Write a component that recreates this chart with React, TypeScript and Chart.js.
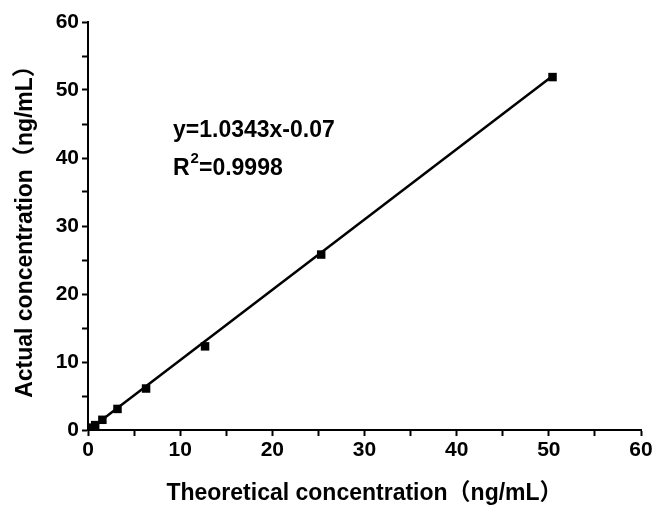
import React, { useEffect, useRef } from "react";
import { Chart, registerables } from "chart.js";

Chart.register(...registerables);

const theoretical = [0.39, 0.78, 1.56, 3.2, 6.3, 12.7, 25.3, 50.4];
const actual = [0.35, 0.72, 1.5, 3.1, 6.1, 12.3, 25.8, 51.9];
const slope = 1.0343;
const intercept = -0.07;
const fitLabel = "y=1.0343x-0.07";
const r2Label = "0.9998";
const xTitle = "Theoretical concentration（ng/mL）";
const yTitle = "Actual concentration（ng/mL）";

const FONT = "'Liberation Sans', Arial, 'Noto Sans CJK SC', sans-serif";

const annotationPlugin = {
  id: "fitText",
  afterDraw(chart: any) {
    const { ctx, chartArea } = chart;
    ctx.save();
    ctx.fillStyle = "#000";
    ctx.font = `bold 23px ${FONT}`;
    ctx.textBaseline = "alphabetic";
    ctx.textAlign = "left";
    const x0 = chartArea.left + 85;
    ctx.fillText(fitLabel, x0, chartArea.top + 115);
    ctx.fillText("R", x0, chartArea.top + 153);
    const rw = ctx.measureText("R").width;
    ctx.font = `bold 15px ${FONT}`;
    ctx.fillText("2", x0 + rw + 1, chartArea.top + 141);
    const w2 = ctx.measureText("2").width;
    ctx.font = `bold 23px ${FONT}`;
    ctx.fillText("=" + r2Label, x0 + rw + w2 + 1, chartArea.top + 153);
    ctx.restore();
  },
};

export default function App() {
  const ref = useRef<HTMLCanvasElement>(null);
  useEffect(() => {
    if (!ref.current) return;
    const xs = [theoretical[0], theoretical[theoretical.length - 1]];
    const fit = xs.map((x) => ({ x, y: slope * x + intercept }));
    const tickFont = { family: FONT, size: 21, weight: "bold" as const };
    const titleFont = { family: FONT, size: 23, weight: "bold" as const };
    const chart = new Chart(ref.current, {
      type: "scatter",
      data: {
        datasets: [
          {
            type: "line",
            data: fit,
            borderColor: "#000",
            borderWidth: 2.5,
            pointRadius: 0,
            showLine: true,
          } as any,
          {
            data: theoretical.map((x, i) => ({ x, y: actual[i] })),
            pointStyle: "rect",
            pointRadius: 6,
            backgroundColor: "#000",
            borderWidth: 0,
          },
        ],
      },
      options: {
        animation: false,
        responsive: false,
        layout: { padding: { top: 22, right: 18, left: 0, bottom: 0 } },
        plugins: { legend: { display: false }, tooltip: { enabled: false } },
        scales: {
          x: {
            type: "linear",
            min: 0,
            max: 60,
            border: { color: "#000", width: 2 },
            grid: { drawOnChartArea: false, color: "#000", tickLength: 6, tickWidth: 2 },
            ticks: {
              stepSize: 5,
              color: "#000",
              font: tickFont,
              padding: 2,
              maxRotation: 0,
              autoSkip: false,
              callback: (v: any) => (v % 10 === 0 ? String(v) : ""),
            },
            title: {
              display: true,
              text: xTitle,
              color: "#000",
              font: titleFont,
              padding: { top: 0, bottom: 7 },
            },
            afterFit: (s: any) => {
              s.height = 84;
            },
          },
          y: {
            type: "linear",
            min: 0,
            max: 60,
            border: { color: "#000", width: 2 },
            grid: { drawOnChartArea: false, color: "#000", tickLength: 6, tickWidth: 2 },
            ticks: {
              stepSize: 5,
              color: "#000",
              font: tickFont,
              padding: 3,
              autoSkip: false,
              callback: (v: any) => (v % 10 === 0 ? String(v) : ""),
            },
            title: {
              display: true,
              text: yTitle,
              color: "#000",
              font: titleFont,
              padding: { top: 12, bottom: 0 },
            },
            afterFit: (s: any) => {
              s.width = 88;
            },
          },
        },
      },
      plugins: [annotationPlugin],
    });
    return () => chart.destroy();
  }, []);
  return (
    <div style={{ position: "absolute", left: 0, top: 0, width: 659, height: 514, background: "#fff" }}>
      <canvas ref={ref} width={659} height={514} style={{ width: 659, height: 514 }} />
    </div>
  );
}
